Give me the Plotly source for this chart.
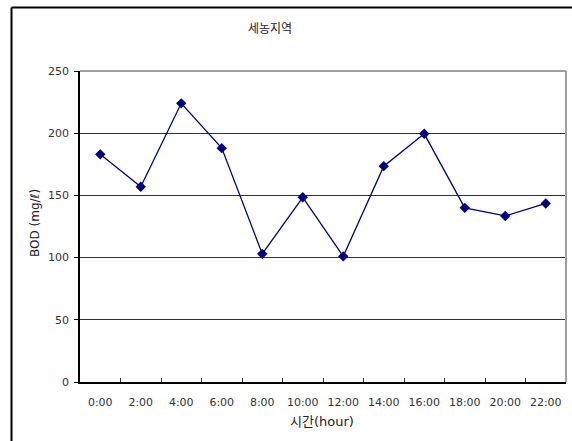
import plotly.graph_objects as go

hours = ["0:00", "2:00", "4:00", "6:00", "8:00", "10:00", "12:00",
         "14:00", "16:00", "18:00", "20:00", "22:00"]
bod = [183, 157, 224, 188, 103, 148.5, 101, 173.5, 199.5, 140, 133.5, 143.5]

title_text = "세농지역"
x_title = "시간(hour)"
y_title = "BOD (mg/ℓ)"

W, H = 572, 441
L, R, T, B = 80, 6, 71, 59
pw, ph = W - L - R, H - T - B

FONT = "DejaVu Sans, Noto Sans CJK KR, sans-serif"

fig = go.Figure()
fig.add_trace(go.Scatter(
    x=hours, y=bod, mode="lines+markers",
    line=dict(color="#000080", width=1.3),
    marker=dict(symbol="diamond", size=8, color="#000080"),
    showlegend=False,
))

def px_x(p):
    return (p - L) / pw

def px_y(p):
    return (H - B - p) / ph

shapes = [
    dict(type="line", xref="paper", yref="paper", x0=px_x(11.5), x1=px_x(600),
         y0=px_y(7.5), y1=px_y(7.5), line=dict(color="#000000", width=2)),
    dict(type="line", xref="paper", yref="paper", x0=px_x(11.5), x1=px_x(11.5),
         y0=px_y(7.5), y1=px_y(460), line=dict(color="#000000", width=2)),
    dict(type="line", xref="paper", yref="paper", x0=0, x1=1, y0=1, y1=1,
         line=dict(color="#a0a0a0", width=2)),
    dict(type="line", xref="paper", yref="paper", x0=1, x1=1, y0=0, y1=1,
         line=dict(color="#a0a0a0", width=2)),
]

fig.update_layout(
    width=W, height=H,
    margin=dict(l=L, r=R, t=T, b=B, autoexpand=False),
    paper_bgcolor="white", plot_bgcolor="white",
    font=dict(family=FONT, size=11, color="#333333"),
    shapes=shapes,
    annotations=[
        dict(text=title_text, xref="paper", yref="paper",
             x=px_x(270), y=px_y(29), showarrow=False,
             font=dict(size=12, color="#222222"),
             xanchor="center", yanchor="middle"),
        dict(text=x_title, xref="paper", yref="paper",
             x=px_x(322), y=px_y(421), showarrow=False,
             font=dict(size=13, color="#222222"),
             xanchor="center", yanchor="middle"),
        dict(text=y_title, xref="paper", yref="paper",
             x=px_x(35), y=px_y(223), showarrow=False, textangle=-90,
             font=dict(size=12, color="#222222"),
             xanchor="center", yanchor="middle"),
    ],
    xaxis=dict(
        type="category", showgrid=False, zeroline=False,
        showline=True, linecolor="#000000", linewidth=1.5,
        ticks="inside", tickson="boundaries", ticklen=4, tickcolor="#333333",
        ticklabelstandoff=9, tickangle=0, automargin=False,
        range=[-0.5, len(hours) - 0.5],
    ),
    yaxis=dict(
        range=[0, 250], dtick=50, showgrid=True, gridcolor="#333333", gridwidth=1,
        zeroline=False, showline=True, linecolor="#000000", linewidth=1.5,
        ticks="outside", ticklen=4, tickcolor="#000000",
        ticklabelstandoff=3, automargin=False,
    ),
)

fig.write_html("out.html")
